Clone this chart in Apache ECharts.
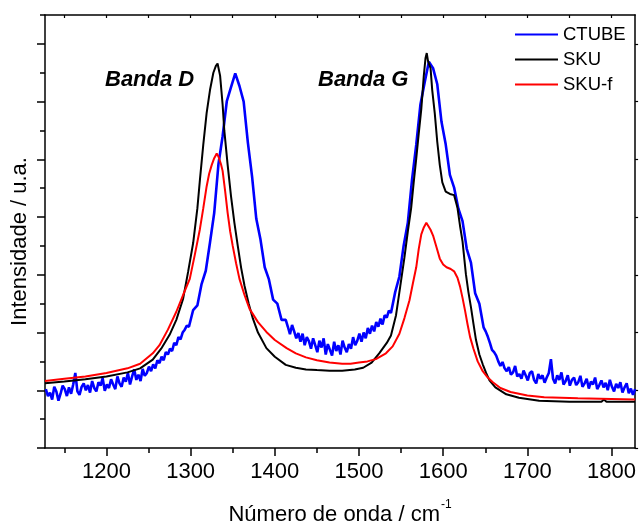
<!DOCTYPE html>
<html>
<head>
<meta charset="utf-8">
<script src="https://cdn.jsdelivr.net/npm/echarts@6/dist/echarts.min.js"></script>
<style>
html,body{margin:0;padding:0;background:#fff;}
#chart{width:639px;height:531px;}
</style>
</head>
<body>
<div id="chart"></div>
<script>
// ---- data ----
const seriesNames = ['CTUBE', 'SKU', 'SKU-f'];

// CTUBE spectrum: [wavenumber, intensity]
const ctubePoints = [
[1128,0.02],[1130.5,-0.10],[1133,-0.04],[1135.5,-0.16],[1138,0.06],[1140.5,-0.02],[1143,-0.18],[1145.5,-0.06],[1148,0.08],[1150.5,0.02],
[1153,-0.10],[1155.5,0.05],[1158,-0.06],[1160.5,0.10],[1163,0.30],[1165.5,-0.02],[1168,-0.08],[1170.5,0.06],[1173,0.12],[1175.5,0.00],
[1178,0.09],[1180.5,-0.04],[1183,0.16],[1185.5,0.04],[1188,-0.02],[1190.5,0.14],[1193,0.08],[1195.5,0.21],[1198,-0.01],[1200.5,0.10],
[1203,0.04],[1205.5,0.19],[1208,0.10],[1210.5,0.02],[1213,0.24],[1215.5,0.12],[1218,0.06],[1220.5,0.22],[1223,0.15],[1225.5,0.30],
[1228,0.10],[1230.5,0.24],[1233,0.36],[1235.5,0.18],[1238,0.27],[1240.5,0.16],[1243,0.37],[1245.5,0.25],[1248,0.30],[1250.5,0.41],
[1253,0.33],[1255.5,0.45],[1258,0.38],[1260.5,0.52],[1263,0.47],[1265.5,0.58],[1268,0.52],[1270.5,0.66],[1273,0.62],[1275.5,0.72],
[1278,0.68],[1280.5,0.82],[1283,0.78],[1285.5,0.92],[1288,0.88],[1290.5,1.00],[1293,1.05],[1295.5,1.12],[1298,1.10],
[1303,1.39],[1308,1.47],[1313,1.84],[1318,2.07],[1323,2.56],[1328,3.07],[1333,3.91],[1338,4.40],[1343,5.01],[1348,5.25],
[1353,5.49],[1358,5.27],[1363,5.00],[1368,4.29],[1373,3.70],[1378,2.97],[1383,2.61],[1388,2.13],[1393,1.92],[1398,1.57],
[1403,1.50],[1408,1.22],[1413,1.22],
[1415.5,1.10],[1418,0.97],[1420.5,1.13],[1423,1.02],[1425.5,0.90],[1428,0.99],[1430.5,0.84],[1433,0.98],[1435.5,0.78],[1438,0.92],
[1440.5,0.85],[1443,0.72],[1445.5,0.90],[1448,0.78],[1450.5,0.66],[1453,0.86],[1455.5,0.74],[1458,0.90],[1460.5,0.62],[1463,0.80],
[1465.5,0.70],[1468,0.60],[1470.5,0.84],[1473,0.68],[1475.5,0.78],[1478,0.62],[1480.5,0.86],[1483,0.74],[1485.5,0.66],[1488,0.80],
[1490.5,0.72],[1493,0.92],[1495.5,0.78],[1498,0.86],[1500.5,0.98],[1503,0.84],[1505.5,1.00],[1508,0.90],[1510.5,1.08],[1513,0.98],
[1515.5,1.12],[1518,1.02],[1520.5,1.18],[1523,1.10],[1525.5,1.24],[1528,1.14],[1530.5,1.30],[1533,1.26],[1535.5,1.38],[1538,1.34],
[1543,1.70],[1548,1.97],[1553,2.50],[1558,2.90],[1563,3.65],[1568,4.25],[1573,4.95],[1578,5.33],[1583,5.69],[1588,5.58],
[1593,5.30],[1598,4.65],[1603,4.26],[1608,3.73],[1613,3.51],[1618,3.15],[1623,2.93],[1628,2.45],[1633,2.21],[1638,1.68],
[1643,1.50],[1648,1.09],
[1650.5,1.02],[1653,0.93],[1655.5,0.82],[1658,0.70],[1660.5,0.66],[1663,0.60],[1665.5,0.50],[1668,0.42],[1670.5,0.49],[1673,0.38],
[1675.5,0.33],[1678,0.40],[1680.5,0.27],[1683,0.31],[1685.5,0.42],[1688,0.24],[1690.5,0.28],[1693,0.20],[1695.5,0.34],[1698,0.26],
[1700.5,0.17],[1703,0.30],[1705.5,0.33],[1708,0.18],[1710.5,0.12],[1713,0.28],[1715.5,0.20],[1718,0.26],[1720.5,0.13],[1723,0.22],
[1725.5,0.30],[1728,0.54],[1730.5,0.20],[1733,0.12],[1735.5,0.26],[1738,0.18],[1740.5,0.31],[1743,0.10],[1745.5,0.16],[1748,0.26],
[1750.5,0.08],[1753,0.18],[1755.5,0.22],[1758,0.09],[1760.5,0.14],[1763,0.25],[1765.5,0.06],[1768,0.12],[1770.5,0.20],[1773,0.03],
[1775.5,0.15],[1778,0.10],[1780.5,0.22],[1783,0.02],[1785.5,0.09],[1788,0.17],[1790.5,0.05],[1793,0.13],[1795.5,0.00],[1798,0.18],
[1800.5,0.06],[1803,-0.02],[1805.5,0.11],[1808,0.04],[1810.5,0.14],[1813,-0.04],[1815.5,0.05],[1818,0.12],[1820.5,-0.05],[1823,0.03],
[1825.5,-0.08],[1828,0.02]
];

const skuX = [1127,1150,1175,1200,1225,1240,1255,1265,1275,1283,1291,1297,1303,1308,1311,1315,1319,1323,1327,1330,1332,1335,1338,1340,1344,1348,1352,1356,1360,1364,1369,1374,1380,1390,1400,1413,1425,1437,1450,1465,1480,1495,1505,1515,1524,1530,1533,1538,1544,1549,1554,1558,1562,1565,1568,1571,1574,1577,1579,1580.5,1582,1585,1587,1590,1593,1596,1599,1603,1608,1613,1617,1620,1623,1627,1630,1633,1636,1639,1643,1647,1651,1655,1662,1675,1690,1714,1750,1788,1791,1794,1828];
const skuY = [0.12,0.15,0.19,0.24,0.31,0.38,0.53,0.72,0.96,1.22,1.58,2.05,2.55,3.15,3.64,4.25,4.80,5.20,5.50,5.62,5.66,5.45,4.95,4.50,3.90,3.36,2.90,2.50,2.12,1.81,1.50,1.24,1.00,0.73,0.58,0.44,0.39,0.36,0.35,0.34,0.34,0.36,0.39,0.48,0.64,0.76,0.82,0.95,1.30,1.80,2.30,2.75,3.16,3.60,4.01,4.45,4.87,5.45,5.75,5.84,5.70,5.58,5.20,4.80,4.30,3.90,3.60,3.44,3.40,3.38,3.16,2.85,2.58,2.01,1.70,1.44,1.15,0.87,0.62,0.45,0.30,0.17,0.05,-0.07,-0.13,-0.18,-0.20,-0.20,-0.16,-0.20,-0.20];

const skufX = [1127,1150,1175,1200,1225,1240,1255,1263,1273,1283,1291,1299,1305,1311,1315,1319,1322,1325,1328,1331,1333,1336,1338,1341,1344,1347,1350,1354,1358,1364,1370,1380,1390,1400,1414,1425,1437,1450,1465,1480,1490,1500,1510,1520,1532,1540,1548,1554,1560,1564,1568,1571,1574,1577,1580,1582,1585,1588,1592,1596,1600,1604,1609,1613,1617,1620,1623,1626,1629,1632,1636,1641,1647,1653,1659,1668,1680,1700,1720,1760,1800,1828];
const skufY = [0.16,0.20,0.24,0.30,0.38,0.46,0.64,0.78,1.05,1.36,1.65,1.93,2.35,2.79,3.15,3.53,3.75,3.90,4.02,4.10,4.05,3.92,3.80,3.45,3.07,2.75,2.50,2.20,1.93,1.65,1.41,1.18,1.01,0.87,0.73,0.64,0.57,0.52,0.48,0.46,0.46,0.48,0.50,0.54,0.64,0.76,0.98,1.25,1.56,1.85,2.13,2.45,2.70,2.82,2.90,2.88,2.78,2.68,2.48,2.28,2.18,2.13,2.10,2.06,1.95,1.80,1.60,1.38,1.14,0.92,0.72,0.50,0.33,0.22,0.14,0.04,-0.03,-0.09,-0.12,-0.14,-0.15,-0.16];

const xMajorTicks = [1200,1300,1400,1500,1600,1700,1800];
const xMinorTicks = [1150,1250,1350,1450,1550,1650,1750];
const yMajorTicks = [-1,0,1,2,3,4,5,6];
const yMinorTicks = [-0.5,0.5,1.5,2.5,3.5,4.5,5.5,6.5];
const xRange = [1127, 1828];
const yRange = [-1, 6.5];
const xTitle = 'Número de onda / cm';
const xTitleSup = '-1';
const yTitle = 'Intensidade / u.a.';
const bandLabels = ['Banda D', 'Banda G'];

// ---- chart ----
const FONT = '"Liberation Sans", Arial, sans-serif';
const zip = (xs, ys) => xs.map((x, i) => [x, ys[i]]);
const colors = ['#0000ff', '#000000', '#ff0000'];
const lineAx = { show: true, onZero: false, lineStyle: { color: '#000', width: 1.5 } };
const hiddenLine = { show: false, onZero: false };

const chart = echarts.init(document.getElementById('chart'), null, { renderer: 'canvas' });
chart.setOption({
  animation: false,
  backgroundColor: '#ffffff',
  grid: { left: 45, right: 3, top: 15, bottom: 77.5, containLabel: false },
  legend: {
    data: seriesNames,
    orient: 'vertical',
    left: 510,
    top: 20,
    icon: 'rect',
    itemWidth: 43,
    itemHeight: 2,
    itemGap: 6,
    textStyle: { fontFamily: FONT, fontSize: 18.5, color: '#000' }
  },
  xAxis: [
    {
      type: 'value', position: 'bottom', min: xRange[0], max: xRange[1],
      axisLine: lineAx,
      axisTick: { show: true, inside: false, length: 8, customValues: xMajorTicks, lineStyle: { color: '#000', width: 1.5 } },
      axisLabel: { show: true, customValues: xMajorTicks, margin: 13, fontFamily: FONT, fontSize: 22, color: '#000',
        formatter: v => String(v) },
      splitLine: { show: false },
      name: '{a|' + xTitle + '}{s|' + xTitleSup + '}',
      nameLocation: 'middle',
      nameGap: 51,
      nameTextStyle: {
        rich: {
          a: { fontFamily: FONT, fontSize: 22, color: '#000' },
          s: { fontFamily: FONT, fontSize: 12, color: '#000', padding: [0, 0, 20, 1] }
        }
      }
    },
    {
      type: 'value', position: 'bottom', min: xRange[0], max: xRange[1],
      axisLine: hiddenLine,
      axisTick: { show: true, inside: false, length: 5, customValues: xMinorTicks, lineStyle: { color: '#000', width: 1.5 } },
      axisLabel: { show: false },
      splitLine: { show: false }
    },
    {
      type: 'value', position: 'top', min: xRange[0], max: xRange[1],
      axisLine: lineAx,
      axisTick: { show: true, inside: true, length: 3, customValues: xMajorTicks.concat(xMinorTicks), lineStyle: { color: '#000', width: 1.2 } },
      axisLabel: { show: false },
      splitLine: { show: false }
    }
  ],
  yAxis: [
    {
      type: 'value', position: 'left', min: yRange[0], max: yRange[1],
      axisLine: lineAx,
      axisTick: { show: true, inside: false, length: 8, customValues: yMajorTicks, lineStyle: { color: '#000', width: 1.5 } },
      axisLabel: { show: false },
      splitLine: { show: false },
      name: yTitle,
      nameLocation: 'middle',
      nameGap: 14,
      nameTextStyle: { fontFamily: FONT, fontSize: 22, color: '#000', padding: [0, 20, 0, 0] }
    },
    {
      type: 'value', position: 'left', min: yRange[0], max: yRange[1],
      axisLine: hiddenLine,
      axisTick: { show: true, inside: false, length: 5, customValues: yMinorTicks, lineStyle: { color: '#000', width: 1.5 } },
      axisLabel: { show: false },
      splitLine: { show: false }
    },
    {
      type: 'value', position: 'right', min: yRange[0], max: yRange[1],
      axisLine: lineAx,
      axisTick: { show: true, inside: false, length: 3, customValues: yMajorTicks, lineStyle: { color: '#000', width: 1.2 } },
      axisLabel: { show: false },
      splitLine: { show: false }
    }
  ],
  graphic: [
    { type: 'text', left: 105, top: 69, style: { text: bandLabels[0], fontFamily: FONT, fontSize: 22, fontWeight: 'bold', fontStyle: 'italic', fill: '#000' } },
    { type: 'text', left: 318, top: 69, style: { text: bandLabels[1], fontFamily: FONT, fontSize: 22, fontWeight: 'bold', fontStyle: 'italic', fill: '#000' } }
  ],
  series: [
    { name: seriesNames[0], type: 'line', data: ctubePoints, showSymbol: false, symbol: 'none', clip: true,
      lineStyle: { color: colors[0], width: 2.6 }, itemStyle: { color: colors[0] } },
    { name: seriesNames[1], type: 'line', data: zip(skuX, skuY), showSymbol: false, symbol: 'none', clip: true,
      lineStyle: { color: colors[1], width: 2 }, itemStyle: { color: colors[1] } },
    { name: seriesNames[2], type: 'line', data: zip(skufX, skufY), showSymbol: false, symbol: 'none', clip: true,
      lineStyle: { color: colors[2], width: 2 }, itemStyle: { color: colors[2] } }
  ]
});
</script>
</body>
</html>
